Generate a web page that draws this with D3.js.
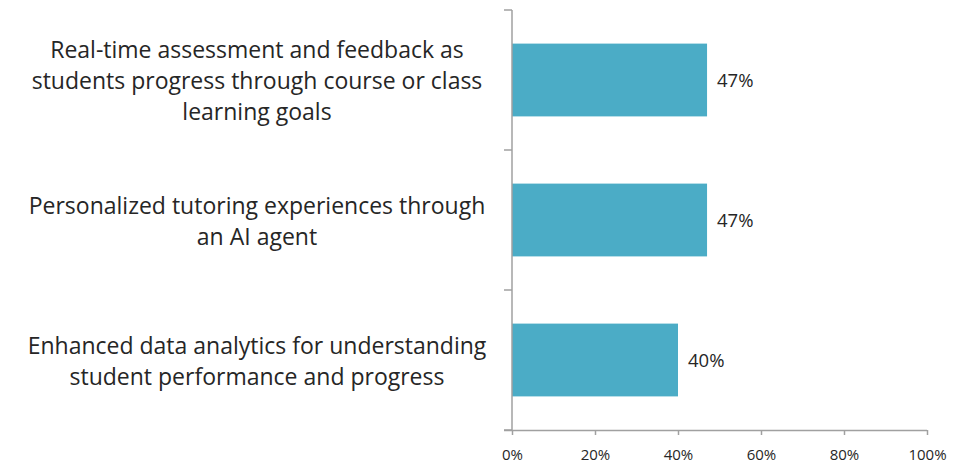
<!DOCTYPE html>
<html>
<head>
<meta charset="utf-8">
<script src="https://cdn.jsdelivr.net/npm/d3@7"></script>
<style>
  html, body { margin: 0; padding: 0; background: #fff; }
  svg { display: block; }
  text { font-family: "Open Sans", "Liberation Sans", sans-serif; fill: #262626; }
</style>
</head>
<body>
<svg id="chart" width="970" height="469"></svg>
<script>
const categories = [
  ["Real-time assessment and feedback as", "students progress through course or class", "learning goals"],
  ["Personalized tutoring experiences through", "an AI agent"],
  ["Enhanced data analytics for understanding", "student performance and progress"]
];
const values = [47, 47, 40];
const tickValues = [0, 20, 40, 60, 80, 100];
const tickLabels = ["0%", "20%", "40%", "60%", "80%", "100%"];

const svg = d3.select("#chart");
const margin = { left: 512, right: 43, top: 10, bottom: 39 };
const W = 970, H = 469;

const x = d3.scaleLinear().domain([0, 100]).range([margin.left, W - margin.right]);
const y = d3.scaleBand().domain(d3.range(categories.length)).range([margin.top, H - margin.bottom]).paddingInner(0.48).paddingOuter(0.24);

const axisColor = "#a0a0a0";

// bars
svg.append("g").selectAll("rect").data(values).join("rect")
  .attr("x", x(0))
  .attr("y", (d, i) => y(i))
  .attr("width", d => x(d) - x(0))
  .attr("height", y.bandwidth())
  .attr("fill", "#4bacc6");

// data labels
svg.append("g").selectAll("text").data(values).join("text")
  .attr("x", d => x(d) + 10)
  .attr("y", (d, i) => y(i) + y.bandwidth() / 2 + 1)
  .attr("dy", "0.35em")
  .attr("font-size", 18.5)
  .text(d => d + "%");

// y axis line and ticks (category boundaries)
const bandStep = (H - margin.bottom - margin.top) / categories.length;
const yAxis = svg.append("g");
yAxis.append("line")
  .attr("x1", x(0)).attr("x2", x(0))
  .attr("y1", margin.top).attr("y2", H - margin.bottom)
  .attr("stroke", axisColor).attr("stroke-width", 1.5);
yAxis.selectAll("line.tk").data(d3.range(categories.length + 1)).join("line")
  .attr("class", "tk")
  .attr("x1", x(0) - 8).attr("x2", x(0))
  .attr("y1", i => margin.top + i * bandStep)
  .attr("y2", i => margin.top + i * bandStep)
  .attr("stroke", axisColor).attr("stroke-width", 1.5);

// x axis
const xAxis = d3.axisBottom(x).tickValues(tickValues)
  .tickFormat((d, i) => tickLabels[i]).tickSizeInner(5).tickSizeOuter(0).tickPadding(14);
const gx = svg.append("g").attr("transform", `translate(0,${H - margin.bottom})`).call(xAxis);
gx.select(".domain").attr("stroke", axisColor).attr("stroke-width", 1.5)
  .attr("d", `M${x(0) - 8},0.5H${x(100)}`);
gx.selectAll(".tick line").attr("stroke", axisColor).attr("stroke-width", 1.5);
gx.selectAll(".tick text").attr("font-size", 15).attr("fill", "#262626")
  .style("font-family", '"Open Sans", "Liberation Sans", sans-serif');

// category labels
const labelCx = 257;
const lineH = 31;
const catG = svg.append("g");
const catTexts = [];
categories.forEach((lines, i) => {
  const cy = y(i) + y.bandwidth() / 2 + 1;
  const t = catG.append("text").attr("text-anchor", "middle").attr("font-size", 20);
  lines.forEach((ln, j) => {
    t.append("tspan").attr("x", labelCx)
      .attr("y", cy + (j - (lines.length - 1) / 2) * lineH)
      .attr("dy", "0.35em").text(ln);
  });
  catTexts.push(t);
});
// fit widest line to ~459 px
let maxW = 0;
catG.selectAll("tspan").each(function () { maxW = Math.max(maxW, this.getComputedTextLength()); });
const fs = 20 * 459 / maxW;
catTexts.forEach(t => t.attr("font-size", fs));
</script>
</body>
</html>
